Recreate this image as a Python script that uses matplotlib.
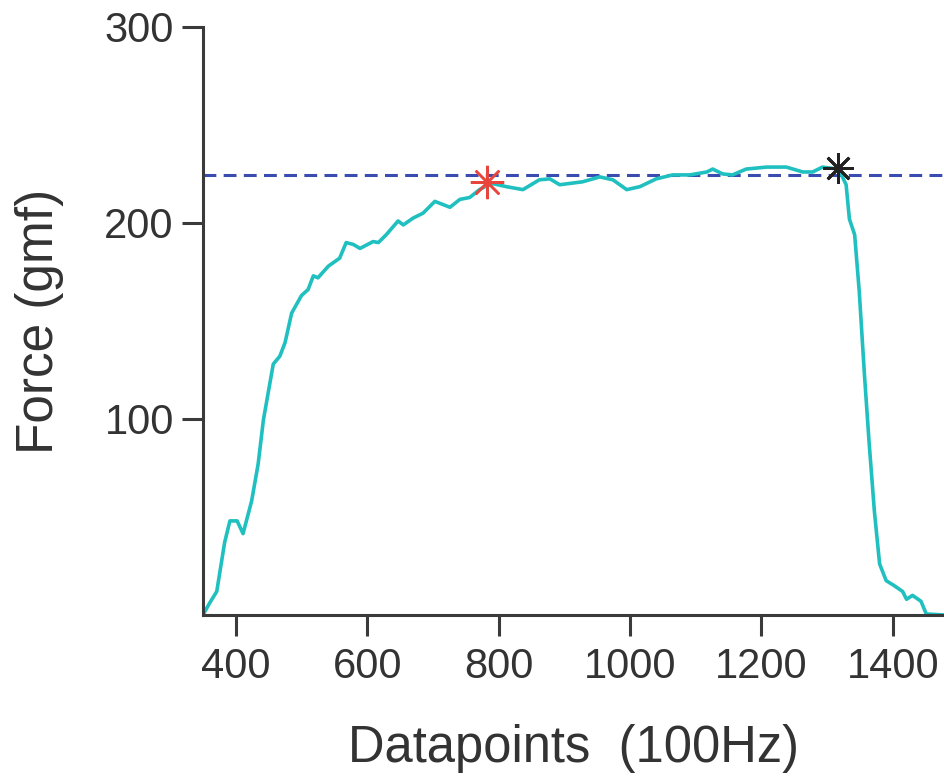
import matplotlib
matplotlib.use("Agg")
import matplotlib.pyplot as plt

plt.rcParams['font.family'] = ['Liberation Sans', 'DejaVu Sans']

# Data
datapoints = [350, 360, 371, 383, 391, 402, 411, 424, 434, 442, 457, 467, 475, 485,
              500, 510, 518, 525, 541, 558, 568, 579, 589, 609, 617, 629, 647, 655,
              670, 685, 703, 726, 741, 756, 771, 782, 792, 812, 837, 862, 878, 893,
              928, 954, 974, 995, 1015, 1040, 1065, 1091, 1117, 1126, 1141, 1156,
              1177, 1208, 1238, 1263, 1278, 1293, 1316, 1322, 1329, 1334, 1342, 1349,
              1357, 1364, 1372, 1380, 1390, 1402, 1415, 1421, 1430, 1443, 1451, 1478]
force = [0, 6, 12, 37, 48, 48, 41.5, 58, 77, 99.5, 128, 132, 139, 154,
         163, 166, 173, 172, 178, 182, 190, 189, 187, 190.5, 190, 194, 201, 199,
         202.5, 205, 211, 208, 212, 213, 217, 219, 220, 218.5, 217, 222, 222.5, 219.5,
         221, 223.5, 222, 217, 218.5, 222.5, 224.5, 224.5, 226, 227.5, 225, 224.5,
         227.5, 228.5, 228.5, 226, 226, 228.5, 227.5, 224.5, 219.5, 202, 194, 165,
         122, 88, 53, 26, 17.5, 15, 12, 8, 10, 7, 0.5, 0]
threshold = 224.5
red_star = (782, 221)
black_star = (1316, 228)
xticks = [400, 600, 800, 1000, 1200, 1400]
yticks = [100, 200, 300]

fig = plt.figure(figsize=(9.44, 7.83), dpi=100)
ax = fig.add_axes([0.215, 0.2146, 0.785, 0.751])

ax.plot(datapoints, force, color='#1fc0bf', lw=2.6, zorder=2)
ax.axhline(threshold, color='#3b4cb0', lw=2.2, dashes=(4.2, 2.4), zorder=1)
ax.plot([red_star[0]], [red_star[1]], marker=(8, 2, 0), ms=24, mew=1.8,
        color='#e8463c', ls='none', zorder=3)
ax.plot([black_star[0]], [black_star[1]], marker=(8, 2, 0), ms=22, mew=2.0,
        color='#222222', ls='none', zorder=3)

ax.set_xlim(350, 1478)
ax.set_ylim(0, 300)
ax.set_xticks(xticks)
ax.set_yticks(yticks)

for s in ['top', 'right']:
    ax.spines[s].set_visible(False)
for s in ['left', 'bottom']:
    ax.spines[s].set_linewidth(2.2)
    ax.spines[s].set_color('#3a3a3a')

ax.tick_params(axis='both', direction='out', length=15, width=2.2, color='#3a3a3a',
               labelsize=30, labelcolor='#333333')
ax.tick_params(axis='x', pad=8)
ax.tick_params(axis='y', pad=6)

ax.set_xlabel('Datapoints  (100Hz)', fontsize=36.5, color='#333333', labelpad=27)
ax.set_ylabel('Force (gmf)', fontsize=37, color='#333333', labelpad=29)

fig.savefig('out.png', dpi=100, facecolor='white')
